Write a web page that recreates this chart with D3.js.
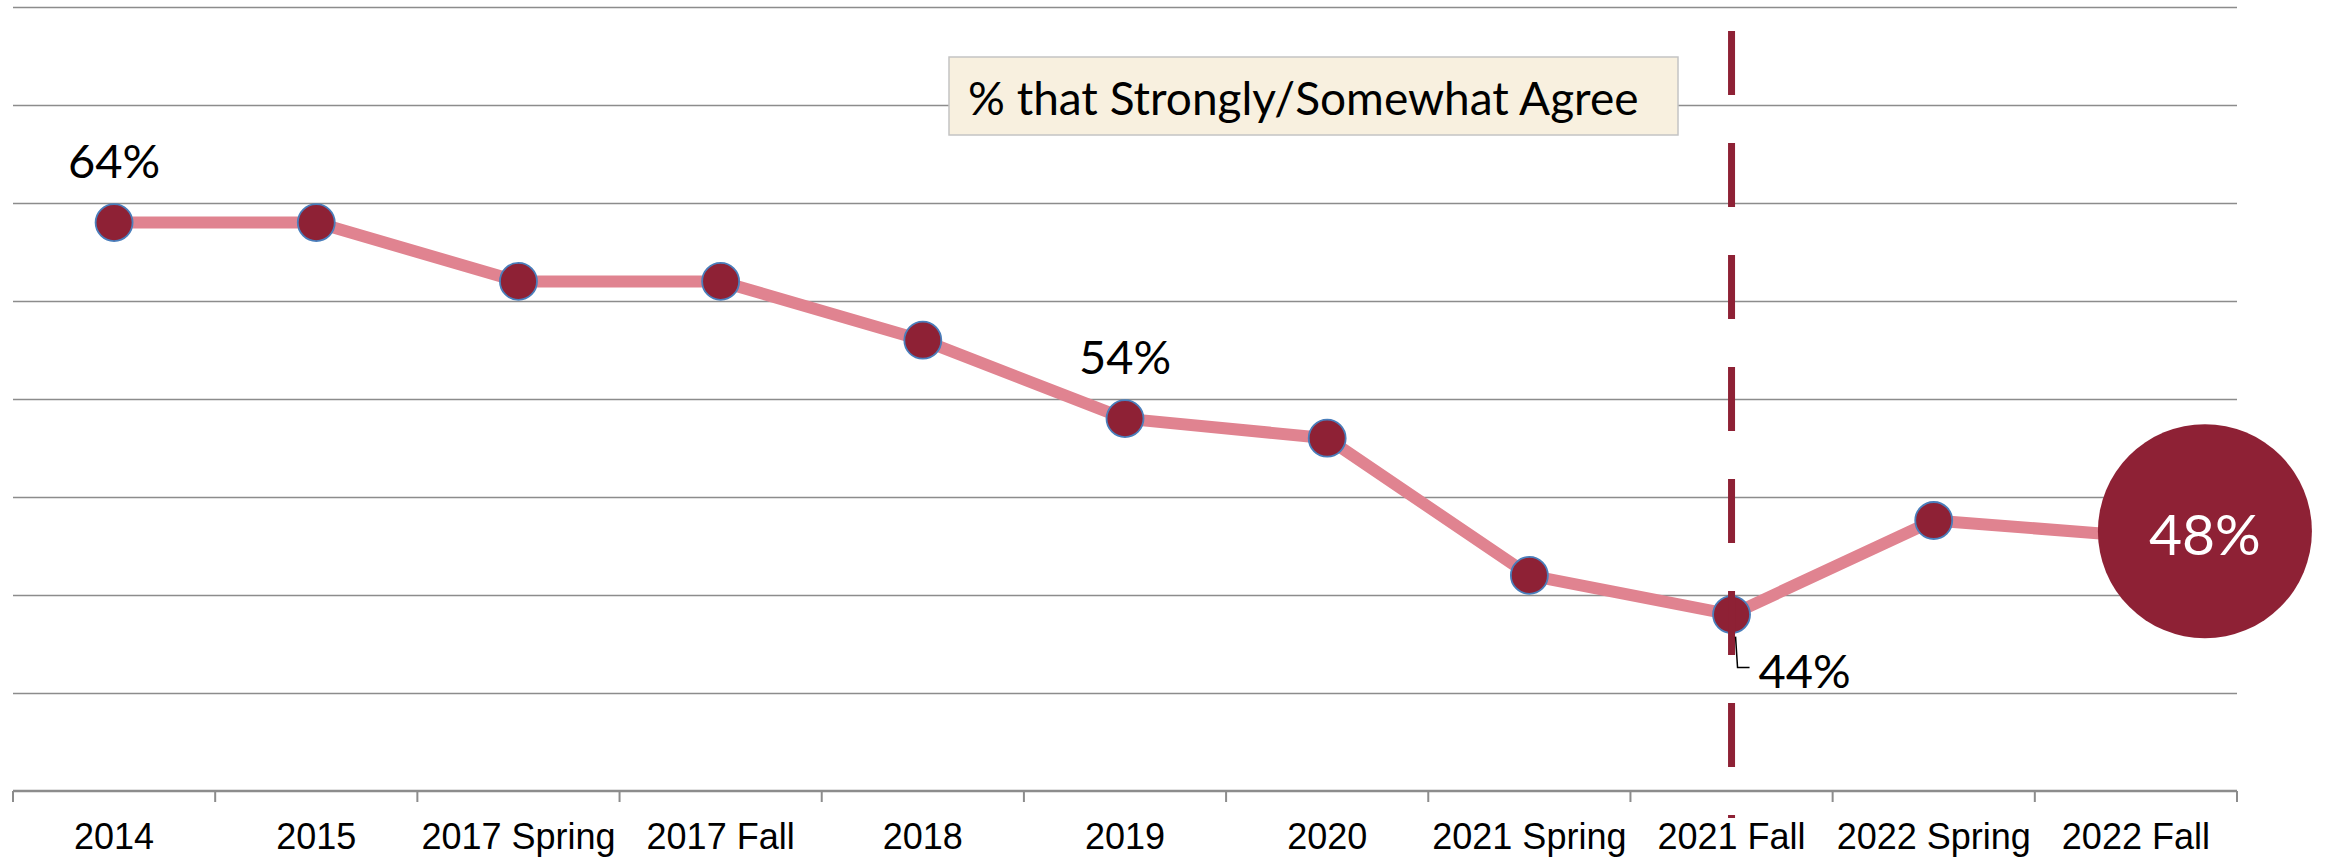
<!DOCTYPE html>
<html>
<head>
<meta charset="utf-8">
<script src="https://cdn.jsdelivr.net/npm/d3@7"></script>
<style>
    body { margin: 0; background: #fff; }
    svg { display: block; }
</style>
</head>
<body>
<div id="chart"></div>
<script>
// data
const categories = ["2014", "2015", "2017 Spring", "2017 Fall", "2018", "2019", "2020", "2021 Spring", "2021 Fall", "2022 Spring", "2022 Fall"];
const agreeValues = [64, 64, 61, 61, 58, 54, 53, 46, 44, 48.8, 48];
const gridTicks = [40, 45, 50, 55, 60, 65, 70, 75];
const labelText = ["64%", "", "", "", "", "54%", "", "", "44%", "", "48%"];
const labelPos = ["above", "", "", "", "", "above", "", "", "leader", "", "bubble"];
const markerCategory = "2021 Fall";
const boxText = "% that Strongly/Somewhat Agree";

//set dimensions
const width = 2326,
    height = 857,
    margin = {
        top: 7,
        right: 89,
        bottom: 66,
        left: 13
    };

const maroon = "#8e2135",
    pink = "#e08390",
    gridColor = "#8c8c8c";

// create svg
const svg = d3.select("#chart")
    .append("svg")
    .attr("width", width)
    .attr("height", height);

// create scales
const xScale = d3.scaleBand()
    .domain(categories)
    .range([margin.left, width - margin.right])
    .padding(0);

const yScale = d3.scaleLinear()
    .domain([35, 75])
    .range([height - margin.bottom, margin.top]);

const cx = d => xScale(d) + xScale.bandwidth() / 2;

// gridlines
const yAxis = d3.axisLeft(yScale)
    .tickValues(gridTicks)
    .tickSize(-(width - margin.left - margin.right))
    .tickFormat("");

svg.append("g")
    .attr("class", "grid")
    .attr("transform", "translate(" + margin.left + ",0)")
    .call(yAxis)
    .call(g => g.select(".domain").remove())
    .call(g => g.selectAll("line")
        .attr("stroke", gridColor)
        .attr("stroke-width", 1.6));

// x axis (ticks between categories like excel)
const xAxisG = svg.append("g")
    .attr("id", "x-axis")
    .attr("transform", "translate(0," + yScale(35) + ")");

xAxisG.append("line")
    .attr("x1", margin.left)
    .attr("x2", width - margin.right)
    .attr("stroke", gridColor)
    .attr("stroke-width", 2.6);

const tickXs = categories.map(c => xScale(c)).concat([width - margin.right]);
xAxisG.selectAll(".tick-mark")
    .data(tickXs)
    .enter()
    .append("line")
    .attr("class", "tick-mark")
    .attr("x1", d => d)
    .attr("x2", d => d)
    .attr("y1", 0)
    .attr("y2", 11)
    .attr("stroke", gridColor)
    .attr("stroke-width", 2);

xAxisG.selectAll(".tick-label")
    .data(categories)
    .enter()
    .append("text")
    .attr("class", "tick-label")
    .attr("x", d => cx(d))
    .attr("y", 58)
    .attr("text-anchor", "middle")
    .style("font-family", "'Liberation Sans', Arial, sans-serif")
    .style("font-size", "36px")
    .attr("fill", "#000")
    .text(d => d);

// annotation box
const box = svg.append("g").attr("class", "note");
box.append("rect")
    .attr("x", 949)
    .attr("y", 57)
    .attr("width", 729)
    .attr("height", 78)
    .attr("fill", "#f8f0df")
    .attr("stroke", "#c4c4c4")
    .attr("stroke-width", 1.5);
box.append("text")
    .attr("x", 968)
    .attr("y", 115)
    .style("font-family", "Lato, 'Open Sans', sans-serif")
    .style("font-size", "46px")
    .attr("fill", "#000")
    .text(boxText);

// line
const dataset = categories.map((c, i) => ({ cat: c, value: agreeValues[i], label: labelText[i], pos: labelPos[i] }));

const line = d3.line()
    .x(d => cx(d.cat))
    .y(d => yScale(d.value));

svg.append("path")
    .datum(dataset)
    .attr("d", line)
    .attr("fill", "none")
    .attr("stroke", pink)
    .attr("stroke-width", 12)
    .attr("stroke-linejoin", "round");

// markers
svg.append("g")
    .selectAll("circle")
    .data(dataset)
    .enter()
    .append("circle")
    .attr("cx", d => cx(d.cat))
    .attr("cy", d => yScale(d.value))
    .attr("r", 18.5)
    .attr("fill", maroon)
    .attr("stroke", "#4a7ebb")
    .attr("stroke-width", 1.8);

// dashed vertical marker
svg.append("line")
    .attr("x1", cx(markerCategory))
    .attr("x2", cx(markerCategory))
    .attr("y1", 31)
    .attr("y2", 818)
    .attr("stroke", maroon)
    .attr("stroke-width", 7)
    .attr("stroke-dasharray", "64 48");

// labels
const labelFont = "Lato, 'Open Sans', sans-serif";

svg.append("g")
    .selectAll("text")
    .data(dataset.filter(d => d.pos === "above"))
    .enter()
    .append("text")
    .attr("x", d => cx(d.cat))
    .attr("y", d => yScale(d.value) - 45)
    .attr("text-anchor", "middle")
    .style("font-family", labelFont)
    .style("font-size", "47px")
    .attr("fill", "#000")
    .text(d => d.label);

// label with leader line
dataset.filter(d => d.pos === "leader").forEach(d => {
    const px = cx(d.cat), py = yScale(d.value);
    svg.append("path")
        .attr("d", `M${px + 4},${py + 22} L${px + 6},${py + 53} L${px + 18},${py + 53}`)
        .attr("fill", "none")
        .attr("stroke", "#000")
        .attr("stroke-width", 1.5);
    svg.append("text")
        .attr("x", px + 27)
        .attr("y", py + 73)
        .style("font-family", labelFont)
        .style("font-size", "47px")
        .attr("fill", "#000")
        .text(d.label);
});

// big bubble for latest value
dataset.filter(d => d.pos === "bubble").forEach(d => {
    const bx = cx(d.cat) + 69, by = yScale(d.value) - 5;
    svg.append("circle")
        .attr("cx", bx)
        .attr("cy", by)
        .attr("r", 107)
        .attr("fill", maroon);
    svg.append("text")
        .attr("x", bx)
        .attr("y", by + 24)
        .attr("text-anchor", "middle")
        .style("font-family", labelFont)
        .style("font-size", "57px")
        .attr("fill", "#fff")
        .text(d.label);
});
</script>
</body>
</html>
